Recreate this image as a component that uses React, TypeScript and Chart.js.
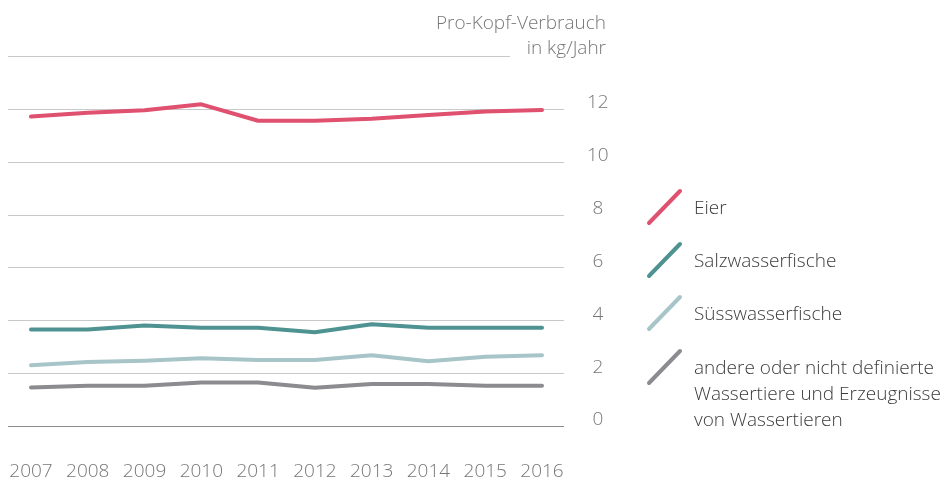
import React, { useEffect, useRef } from "react";
import { Chart, registerables } from "chart.js";

Chart.register(...registerables);

const years = ["2007", "2008", "2009", "2010", "2011", "2012", "2013", "2014", "2015", "2016"];
const eier = [11.71, 11.85, 11.95, 12.17, 11.55, 11.55, 11.63, 11.77, 11.9, 11.96];
const salzwasser = [3.65, 3.65, 3.8, 3.72, 3.72, 3.55, 3.85, 3.72, 3.72, 3.72];
const suesswasser = [2.3, 2.42, 2.47, 2.56, 2.5, 2.5, 2.68, 2.45, 2.62, 2.68];
const andere = [1.46, 1.52, 1.52, 1.65, 1.65, 1.45, 1.59, 1.59, 1.52, 1.52];
const yTicks = [0, 2, 4, 6, 8, 10, 12, 14];
const unitLines = ["Pro-Kopf-Verbrauch", "in kg/Jahr"];
const seriesNames = ["Eier", "Salzwasserfische", "Süsswasserfische", "andere oder nicht definierte Wassertiere und Erzeugnisse von Wassertieren"];
const legendLines = [["Eier"], ["Salzwasserfische"], ["Süsswasserfische"], ["andere oder nicht definierte", "Wassertiere und Erzeugnisse", "von Wassertieren"]];
const colors = ["#e0506f", "#4f9292", "#a7c5c8", "#8b8b90"];

const FONT = "'Open Sans', 'Noto Sans', sans-serif";
const WEIGHT = 300;
const AXIS_COLOR = "#777777";

const gridPlugin = {
  id: "customGrid",
  beforeDatasetsDraw(chart: any) {
    const { ctx, scales } = chart;
    const y = scales.y;
    const x = scales.x;
    const first = x.getPixelForValue(0);
    const last = x.getPixelForValue(years.length - 1);
    const left = first - 23;
    const right = last + 22;
    ctx.save();
    ctx.lineWidth = 1;
    yTicks.forEach((v) => {
      const py = Math.round(y.getPixelForValue(v)) + 0.5;
      ctx.strokeStyle = v === 0 ? "#8c8c8c" : "#c9c9c9";
      ctx.beginPath();
      ctx.moveTo(left, py);
      ctx.lineTo(v === 14 ? right - 54 : right, py);
      ctx.stroke();
    });
    ctx.restore();
  },
};

export default function App() {
  const ref = useRef<HTMLCanvasElement>(null);

  useEffect(() => {
    if (!ref.current) return;
    const series = [eier, salzwasser, suesswasser, andere];
    const chart = new Chart(ref.current, {
      type: "line",
      data: {
        labels: years,
        datasets: series.map((d, i) => ({
          label: seriesNames[i],
          data: d,
          borderColor: colors[i],
          backgroundColor: colors[i],
          borderWidth: 4,
          pointRadius: 0,
          tension: 0,
          borderCapStyle: "round",
          borderJoinStyle: "round",
        })),
      },
      options: {
        animation: false,
        responsive: false,
        maintainAspectRatio: false,
        layout: { padding: { left: 31, right: 302, top: 56, bottom: 0 } },
        plugins: { legend: { display: false }, tooltip: { enabled: false } },
        scales: {
          x: {
            type: "category",
            offset: false,
            grid: { display: false },
            border: { display: false },
            ticks: {
              color: AXIS_COLOR,
              font: { family: FONT, size: 19, weight: WEIGHT },
              padding: 26,
              maxRotation: 0,
              autoSkip: false,
            },
            afterFit(scale: any) {
              scale.height = 56;
              scale.paddingLeft = 0;
              scale.paddingRight = 0;
            },
          },
          y: {
            position: "right",
            min: 0,
            max: 14,
            grid: { display: false },
            border: { display: false },
            ticks: {
              stepSize: 2,
              color: AXIS_COLOR,
              font: { family: FONT, size: 19, weight: WEIGHT },
              padding: 37,
              crossAlign: "center",
              labelOffset: -6,
              callback: (v: any) => (Number(v) === 14 ? "" : String(v)),
            },
            afterFit(scale: any) {
              scale.width = 100;
              scale.paddingTop = 0;
              scale.paddingBottom = 0;
            },
          },
        },
      },
      plugins: [gridPlugin],
    });
    return () => chart.destroy();
  }, []);

  const legendCenters = [207, 260, 313, 367];

  return (
    <div style={{ position: "fixed", left: 0, top: 0, width: 944, height: 482, background: "#fff", overflow: "hidden" }}>
      <canvas ref={ref} width={944} height={482} style={{ position: "absolute", left: 0, top: 0, width: 944, height: 482 }} />
      {unitLines.map((t, i) => (
        <div
          key={t}
          style={{
            position: "absolute",
            right: 944 - 606,
            top: 22 + i * 25 - 13,
            height: 26,
            lineHeight: "26px",
            fontFamily: FONT,
            fontWeight: WEIGHT,
            fontSize: 19,
            color: AXIS_COLOR,
            whiteSpace: "nowrap",
          }}
        >
          {t}
        </div>
      ))}
      {legendLines.map((lines, i) => (
        <div key={i}>
          <svg
            width={44}
            height={44}
            style={{ position: "absolute", left: 643, top: legendCenters[i] - 22 }}
          >
            <line x1={6} y1={38} x2={37} y2={6} stroke={colors[i]} strokeWidth={4} strokeLinecap="round" />
          </svg>
          <div
            style={{
              position: "absolute",
              left: 694,
              top: legendCenters[i] - 13,
              fontFamily: FONT,
              fontWeight: WEIGHT,
              fontSize: 19,
              lineHeight: "26px",
              color: "#3c3c3c",
              whiteSpace: "nowrap",
            }}
          >
            {lines.map((l) => (
              <div key={l}>{l}</div>
            ))}
          </div>
        </div>
      ))}
    </div>
  );
}
